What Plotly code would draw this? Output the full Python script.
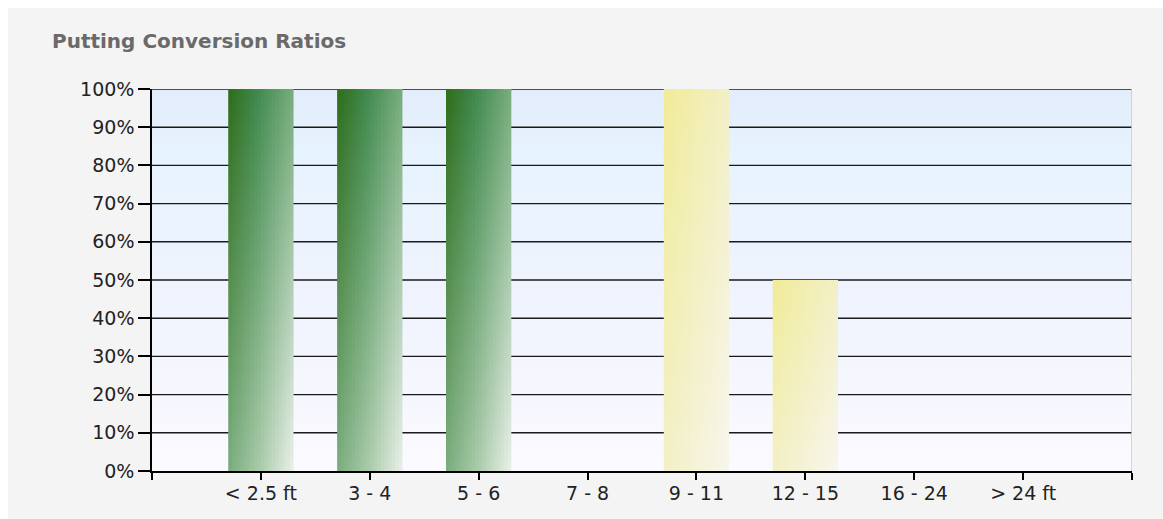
import plotly.graph_objects as go

# ---- data ----
categories = ["< 2.5 ft", "3 - 4", "5 - 6", "7 - 8", "9 - 11", "12 - 15", "16 - 24", "> 24 ft"]
ratios = [100, 100, 100, 0, 100, 50, 0, 0]
bar_kind = ["green", "green", "green", "green", "yellow", "yellow", "yellow", "yellow"]
y_ticks = [0, 10, 20, 30, 40, 50, 60, 70, 80, 90, 100]
y_tick_labels = [f"{v}%" for v in y_ticks]
title_text = "Putting Conversion Ratios"

# ---- styles ----
W, H = 1163, 519
ML, MR, MT, MB = 152, 31, 89, 48
PW, PH = W - ML - MR, H - MT - MB
BAR_W = 0.6
N_STRIPS = 18
palettes = {
    "green": [(0.0, (46, 108, 26)), (0.22, (62, 136, 76)), (0.48, (116, 170, 122)),
              (0.75, (172, 204, 172)), (1.0, (234, 240, 234))],
    "yellow": [(0.0, (241, 236, 152)), (0.45, (242, 239, 194)), (1.0, (247, 246, 236))],
}
X_MIN, X_MAX = -1, len(categories)


def interp(pal, t):
    t = max(0.0, min(1.0, t))
    for (t0, c0), (t1, c1) in zip(pal, pal[1:]):
        if t <= t1:
            f = 0 if t1 == t0 else (t - t0) / (t1 - t0)
            return "rgb(%d,%d,%d)" % tuple(round(a + (b - a) * f) for a, b in zip(c0, c1))
    return "rgb(%d,%d,%d)" % pal[-1][1]


fig = go.Figure()

# plot background gradient
fig.add_trace(go.Scatter(
    x=[X_MIN, X_MAX, X_MAX, X_MIN, X_MIN], y=[0, 0, 100, 100, 0],
    mode="lines", line=dict(width=0), fill="toself",
    fillgradient=dict(type="vertical", colorscale=[[0, "#fbfaff"], [0.5, "#eff3fe"], [0.82, "#e7f3fe"], [1, "#e3edfc"]]),
    hoverinfo="skip", showlegend=False))

# grid lines (drawn beneath bars)
gx, gy = [], []
for v in y_ticks[1:]:
    gx += [X_MIN, X_MAX, None]
    gy += [v, v, None]
fig.add_trace(go.Scatter(x=gx, y=gy, mode="lines", line=dict(color="#1a1a1a", width=1.4),
                         hoverinfo="skip", showlegend=False))

# bars with diagonal gradient (built from vertical strips)
for i, (val, kind) in enumerate(zip(ratios, bar_kind)):
    if val <= 0:
        continue
    pal = palettes[kind]
    x0 = i - BAR_W / 2
    sw = BAR_W / N_STRIPS
    for k in range(N_STRIPS):
        a = x0 + k * sw
        b = min(x0 + (k + 1) * sw + sw * 0.35, i + BAR_W / 2)
        u = (k + 0.5) / N_STRIPS
        top_t = 0.5 * u
        bot_t = 0.5 * u + 0.5
        fig.add_trace(go.Scatter(
            x=[a, b, b, a, a], y=[0, 0, val, val, 0],
            mode="lines", line=dict(width=0), fill="toself",
            fillgradient=dict(type="vertical", colorscale=[[0, interp(pal, bot_t)], [1, interp(pal, top_t)]]),
            hoverinfo="skip", showlegend=False))

# right border of plot
fig.add_shape(type="line", xref="x", yref="y", x0=X_MAX, x1=X_MAX, y0=0, y1=100,
              line=dict(color="#c8c8c8", width=1.5), layer="above")

# white page strips (top / left) around the gray panel
fig.add_shape(type="rect", xref="paper", yref="paper",
              x0=-ML / PW, x1=(8 - ML) / PW, y0=-MB / PH, y1=(H - MB) / PH,
              fillcolor="white", line=dict(width=0), layer="below")
fig.add_shape(type="rect", xref="paper", yref="paper",
              x0=-ML / PW, x1=(W - ML) / PW, y0=(H - MB - 8) / PH, y1=(H - MB) / PH,
              fillcolor="white", line=dict(width=0), layer="below")

fig.add_annotation(text=title_text, xref="paper", yref="paper",
                   x=(50 - ML) / PW, y=(H - MB - 41) / PH, xanchor="left", yanchor="middle",
                   showarrow=False, font=dict(family="DejaVu Sans", size=20, color="#6a6a6a", weight="bold"))

fig.update_layout(
    width=W, height=H,
    margin=dict(l=ML, r=MR, t=MT, b=MB, pad=0),
    paper_bgcolor="#f4f4f4", plot_bgcolor="rgba(0,0,0,0)",
    showlegend=False,
    font=dict(family="DejaVu Sans", size=19, color="#222222"),
    xaxis=dict(range=[X_MIN, X_MAX], tickmode="array",
               tickvals=list(range(X_MIN, X_MAX + 1)),
               ticktext=[""] + categories + [""],
               showgrid=False, zeroline=False, showline=True, linecolor="#000", linewidth=1.5,
               ticks="outside", ticklen=7, tickcolor="#000", tickwidth=1.5, fixedrange=True,
               ticklabelstandoff=-3),
    yaxis=dict(range=[0, 100], tickmode="array", tickvals=y_ticks, ticktext=y_tick_labels,
               showgrid=False, zeroline=False, showline=True, linecolor="#000", linewidth=1.5,
               ticks="outside", ticklen=12, tickcolor="#000", tickwidth=1.5, fixedrange=True),
)

fig.write_html("out.html", config={"displayModeBar": False})
